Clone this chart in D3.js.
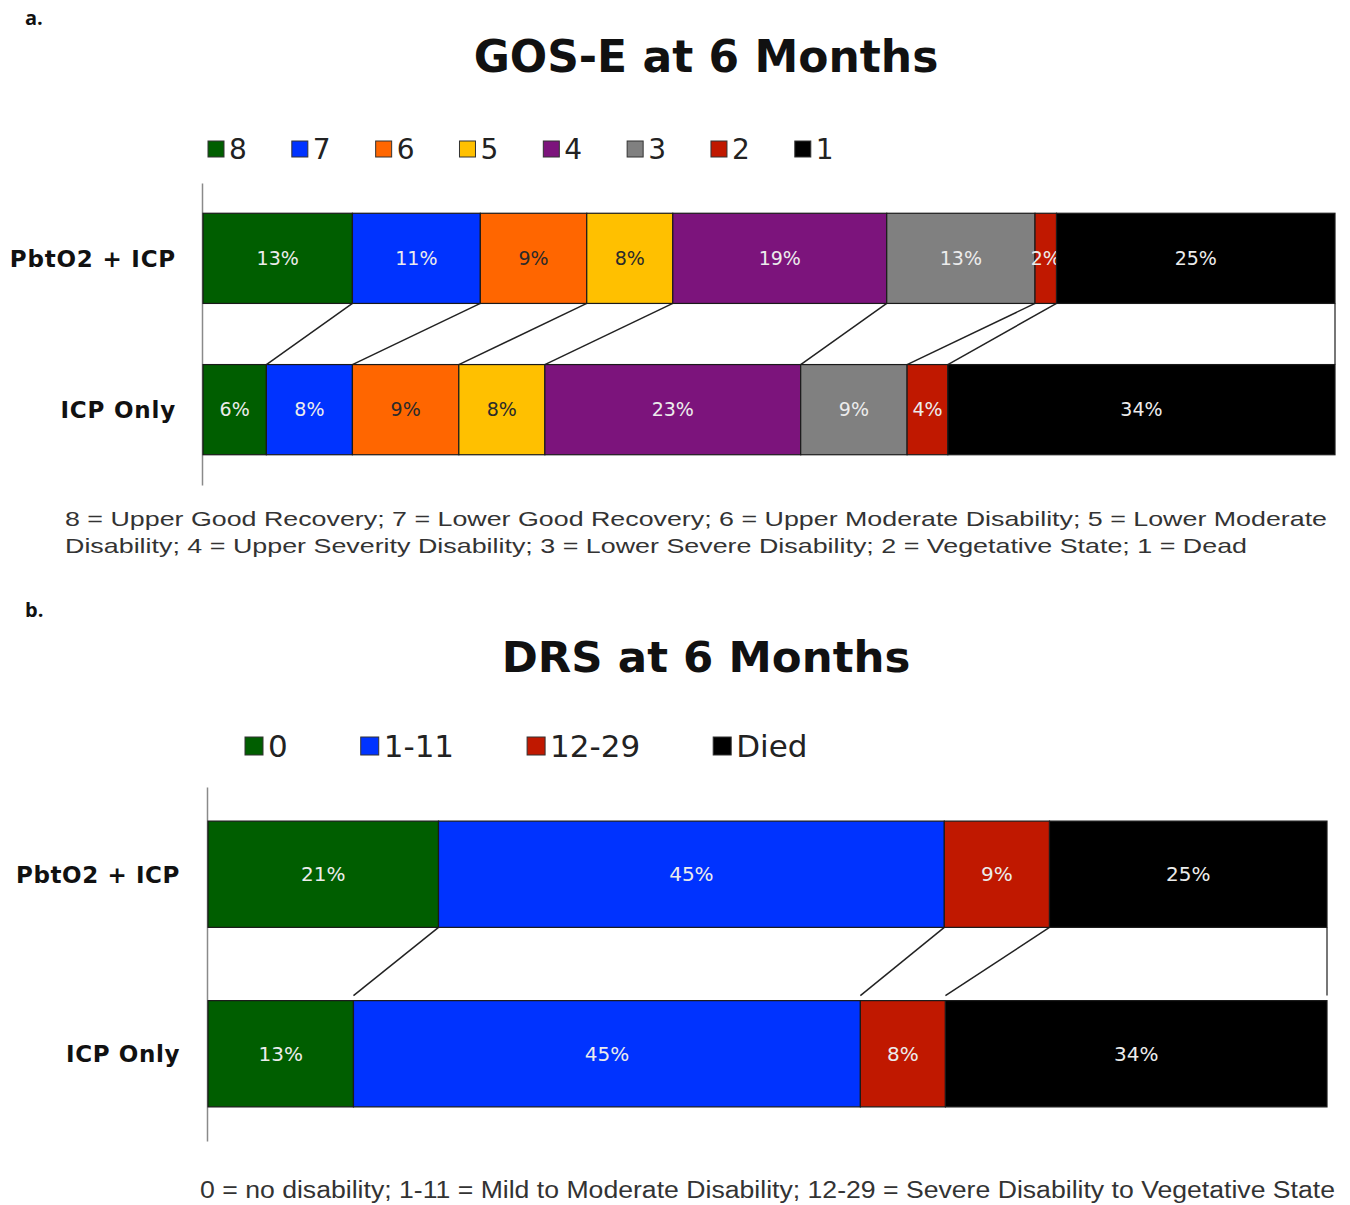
<!DOCTYPE html>
<html>
<head>
<meta charset="utf-8">
<script src="https://cdn.jsdelivr.net/npm/d3@7"></script>
<style>
  body { margin: 0; background: #ffffff; }
  svg { display: block; }
</style>
</head>
<body>
<div id="chart"></div>
<script>
// data

const groups = ["PbtO2 + ICP", "ICP Only"];

const gosCategories = ["8", "7", "6", "5", "4", "3", "2", "1"];
const gosPbto2Icp = [13.2, 11.3, 9.4, 7.6, 18.9, 13.1, 1.9, 24.6];
const gosIcpOnly = [5.6, 7.6, 9.4, 7.6, 22.6, 9.4, 3.6, 34.2];

const drsCategories = ["0", "1-11", "12-29", "Died"];
const drsPbto2Icp = [20.6, 45.2, 9.4, 24.8];
const drsIcpOnly = [13.0, 45.3, 7.6, 34.1];

const gosNote = [
  "8 = Upper Good Recovery; 7 = Lower Good Recovery; 6 = Upper Moderate Disability; 5 = Lower Moderate",
  "Disability; 4 = Upper Severity Disability; 3 = Lower Severe Disability; 2 = Vegetative State;  1 = Dead"
];
const drsNote = [
  "0 = no disability; 1-11 = Mild to Moderate Disability; 12-29 = Severe Disability to Vegetative State"
];

// config

const width = 1350;
const height = 1205;

const gosColors = ["#005e00", "#0033ff", "#ff6600", "#ffc000", "#7c147c", "#808080", "#c01800", "#000000"];
const drsColors = ["#005e00", "#0033ff", "#c01800", "#000000"];

const svg = d3.select("#chart")
  .append("svg")
  .attr("width", width)
  .attr("height", height)
  .attr("viewBox", [0, 0, width, height]);

svg.append("rect")
  .attr("width", width)
  .attr("height", height)
  .attr("fill", "#ffffff");

function drawPanel(p) {
  // rows for the stack
  const rows = p.groups.map((g, gi) => {
    const row = { group: g };
    p.categories.forEach((c, ci) => { row[c] = p.series[gi][ci]; });
    return row;
  });
  const stacked = d3.stack().keys(p.categories)(rows);

  const xScale = d3.scaleLinear()
    .domain([0, 100])
    .range(p.xRange);

  const yScale = d3.scaleBand()
    .domain(p.groups)
    .range(p.yRange)
    .paddingInner(p.padInner)
    .paddingOuter(p.padOuter);

  const color = d3.scaleOrdinal()
    .domain(p.categories)
    .range(p.colors);

  const g = svg.append("g");

  // panel letter
  g.append("text")
    .attr("x", 25)
    .attr("y", p.letterY)
    .style("font-family", "'Open Sans', 'Liberation Sans', sans-serif")
    .style("font-size", "20px")
    .style("font-weight", "bold")
    .style("fill", "#111")
    .text(p.letter);

  // title
  g.append("text")
    .attr("x", 706)
    .attr("y", p.titleY)
    .attr("text-anchor", "middle")
    .style("font-family", "'DejaVu Sans', Verdana, sans-serif")
    .style("font-size", p.titleFont + "px")
    .style("font-weight", "bold")
    .style("fill", "#111")
    .text(p.title);

  // legend
  let lx = p.legend.x;
  p.categories.forEach((c, i) => {
    g.append("rect")
      .attr("x", lx)
      .attr("y", p.legend.y - p.legend.box / 2)
      .attr("width", p.legend.box)
      .attr("height", p.legend.box)
      .attr("fill", color(c))
      .attr("stroke", "#333")
      .attr("stroke-width", 1);
    const t = g.append("text")
      .attr("x", lx + p.legend.box + 5)
      .attr("y", p.legend.y)
      .attr("dy", "0.36em")
      .style("font-family", "'DejaVu Sans', Verdana, sans-serif")
      .style("font-size", p.legend.font + "px")
      .style("fill", "#222")
      .text(c);
    lx += p.legend.box + 5 + t.node().getComputedTextLength() + p.legend.gap;
  });

  // axis line (left)
  const yAxis = d3.axisLeft(yScale).tickSize(0).tickFormat("");
  g.append("g")
    .attr("transform", "translate(" + (p.xRange[0] - 1) + ",0)")
    .call(yAxis)
    .call(s => s.select(".domain").attr("stroke", "#8a8a8a").attr("stroke-width", 1.5));

  // group labels
  g.selectAll("text.group")
    .data(p.groups)
    .join("text")
    .attr("class", "group")
    .attr("x", p.labelX)
    .attr("y", d => yScale(d) + yScale.bandwidth() / 2)
    .attr("dy", "0.36em")
    .attr("text-anchor", "end")
    .style("font-family", "'DejaVu Sans', Verdana, sans-serif")
    .style("font-size", p.groupFont + "px")
    .style("letter-spacing", p.groupSpacing + "px")
    .style("font-weight", "bold")
    .style("fill", "#111")
    .text(d => d);

  // connector lines between the two bars
  const bottomTop = yScale(p.groups[0]) + yScale.bandwidth();
  const topBottom = yScale(p.groups[1]);
  const bounds = stacked.map(s => [s[0][1], s[1][1]]);
  g.selectAll("line.link")
    .data(bounds)
    .join("line")
    .attr("class", "link")
    .attr("x1", d => xScale(d[0]))
    .attr("y1", bottomTop)
    .attr("x2", d => xScale(d[1]))
    .attr("y2", topBottom - p.linkGap)
    .attr("stroke", (d, i) => i === bounds.length - 1 ? "#777" : "#222")
    .attr("stroke-width", (d, i) => i === bounds.length - 1 ? 2 : 1.5);

  // stacked bars
  const layer = g.selectAll("g.layer")
    .data(stacked)
    .join("g")
    .attr("class", "layer")
    .attr("fill", d => color(d.key));

  layer.selectAll("rect")
    .data(d => d.map(v => Object.assign(v, { key: d.key })))
    .join("rect")
    .attr("x", d => xScale(d[0]))
    .attr("y", d => yScale(d.data.group))
    .attr("width", d => xScale(d[1]) - xScale(d[0]))
    .attr("height", yScale.bandwidth())
    .attr("stroke", "#1a1a1a")
    .attr("stroke-width", 1.2);

  // value labels
  layer.selectAll("text")
    .data(d => d)
    .join("text")
    .attr("x", d => (xScale(d[0]) + xScale(d[1])) / 2)
    .attr("y", d => yScale(d.data.group) + yScale.bandwidth() / 2)
    .attr("dy", "0.36em")
    .attr("text-anchor", "middle")
    .style("font-family", "'DejaVu Sans', Verdana, sans-serif")
    .style("font-size", p.valueFont + "px")
    .style("fill", d => p.darkLabels.includes(d.key) ? "#2a2a2a" : "#ececec")
    .text(d => Math.round(d[1] - d[0]) + "%");

  // footnote
  g.selectAll("text.note")
    .data(p.note)
    .join("text")
    .attr("class", "note")
    .attr("x", p.noteX)
    .attr("y", (d, i) => p.noteY + i * p.noteLine)
    .attr("textLength", (d, i) => p.noteWidths[i])
    .attr("lengthAdjust", "spacingAndGlyphs")
    .style("font-family", "'Liberation Sans', Arial, sans-serif")
    .style("font-size", p.noteFont + "px")
    .style("fill", "#333")
    .text(d => d);
}

drawPanel({
  letter: "a.",
  letterY: 25,
  title: "GOS-E at 6 Months",
  titleY: 72,
  titleFont: 44,
  groups: groups,
  categories: gosCategories,
  series: [gosPbto2Icp, gosIcpOnly],
  colors: gosColors,
  darkLabels: ["6", "5"],
  xRange: [203, 1335],
  yRange: [183, 485],
  padInner: 0.404,
  padOuter: 0.2,
  linkGap: 0,
  labelX: 176,
  groupFont: 23,
  groupSpacing: 0.8,
  valueFont: 19,
  legend: { x: 208, y: 149, box: 16, font: 28, gap: 45 },
  note: gosNote,
  noteX: 65,
  noteY: 526,
  noteLine: 27,
  noteWidths: [1262, 1182],
  noteFont: 21
});

drawPanel({
  letter: "b.",
  letterY: 617,
  title: "DRS at 6 Months",
  titleY: 672,
  titleFont: 43.5,
  groups: groups,
  categories: drsCategories,
  series: [drsPbto2Icp, drsIcpOnly],
  colors: drsColors,
  darkLabels: [],
  xRange: [208, 1327],
  yRange: [787, 1141],
  padInner: 0.408,
  padOuter: 0.19,
  linkGap: 5,
  labelX: 180,
  groupFont: 23,
  groupSpacing: 0.6,
  valueFont: 20,
  legend: { x: 245, y: 746, box: 18, font: 31, gap: 73 },
  note: drsNote,
  noteX: 200,
  noteY: 1198,
  noteLine: 28,
  noteWidths: [1135],
  noteFont: 23
});
</script>
</body>
</html>
